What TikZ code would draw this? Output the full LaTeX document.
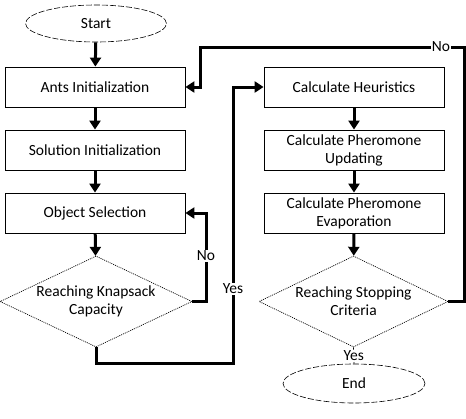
\documentclass[tikz,border=0pt]{standalone}
\usepackage{fontspec}
\setmainfont{Carlito}
\usetikzlibrary{shapes.geometric,arrows.meta}
\begin{document}
\begin{tikzpicture}[x=1pt,y=-1pt,
  every node/.style={font=\fontsize{15.5}{18}\selectfont},
  procbox/.style={draw,line width=0.8pt,minimum width=180pt,minimum height=40pt,inner sep=0pt,align=center},
  term/.style={ellipse,draw,line width=0.6pt,dash pattern=on 6pt off 2pt,inner sep=0pt},
  decide/.style={diamond,draw,line width=0.7pt,dash pattern=on 1pt off 1pt,inner sep=0pt,shape aspect=2.1,align=center},
  conn/.style={line width=3pt,-{Triangle[width=11pt,length=9pt]}},
  plain/.style={line width=3pt},
  lbl/.style={fill=white,inner sep=1pt}]
\useasboundingbox (0,0) rectangle (466,418);
\node[term,minimum width=141pt,minimum height=37pt] (start) at (96,23.5) {Start};
\node[procbox] (ants) at (95,87) {Ants Initialization};
\node[procbox] (sol) at (95,150) {Solution Initialization};
\node[procbox] (obj) at (95,213) {Object Selection};
\node[decide,minimum width=192pt,minimum height=91pt] (knap) at (96,301.5) {Reaching Knapsack\\Capacity};
\node[procbox] (heur) at (354,87) {Calculate Heuristics};
\node[procbox] (upd) at (354,150) {Calculate Pheromone\\Updating};
\node[procbox] (evap) at (354,213) {Calculate Pheromone\\Evaporation};
\node[decide,minimum width=189pt,minimum height=91pt] (stop) at (353.5,301.5) {Reaching Stopping\\Criteria};
\node[term,minimum width=142pt,minimum height=39pt] (end) at (354,383.5) {End};

\draw[conn] (start) -- (ants);
\draw[conn] (ants) -- (sol);
\draw[conn] (sol) -- (obj);
\draw[conn] (obj) -- (knap);
\draw[conn] (heur) -- (upd);
\draw[conn] (upd) -- (evap);
\draw[conn] (evap) -- (stop);

\coordinate (n1) at (206,301.5);
\draw[conn] (knap.east) -- (n1) |- (obj.east);
\node[lbl] (no1) at (206,256) {No};

\coordinate (y1) at (96,363);
\coordinate (y2) at (233,363);
\draw[conn] (knap.south) -- (y1) -- (y2) |- (heur.west);
\node[lbl] (yes1) at (233,289) {Yes};

\coordinate (n2) at (464,301.5);
\coordinate (n3) at (200,47);
\draw[conn] (stop.east) -- (n2) |- (n3) |- (ants.east);
\node[lbl] (no2) at (441,47) {No};

\draw[line width=0.6pt] (stop.south) -- (end.north) node[midway,lbl] (yes2) {Yes};
\end{tikzpicture}
\end{document}
